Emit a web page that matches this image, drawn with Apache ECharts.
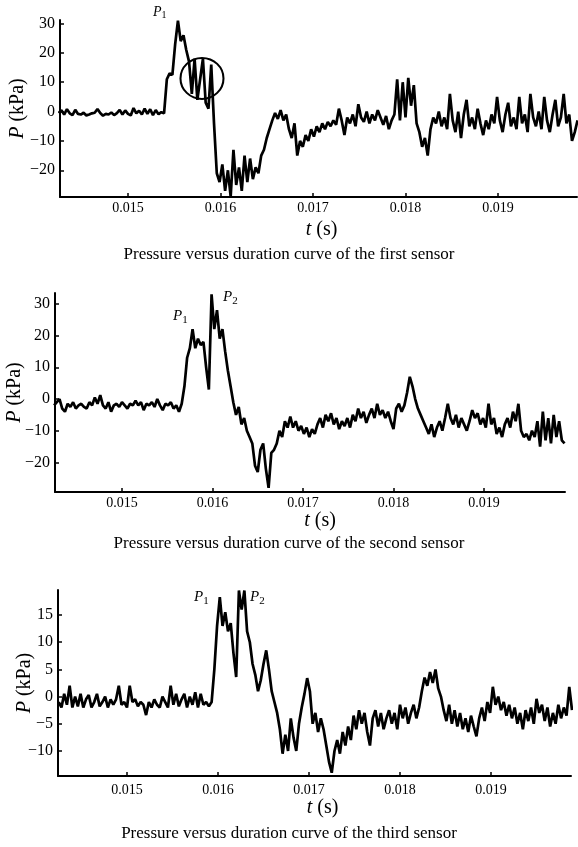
<!DOCTYPE html>
<html>
<head>
<meta charset="utf-8">
<script src="https://cdn.jsdelivr.net/npm/echarts@6/dist/echarts.min.js"></script>
<style>
html, body { margin: 0; padding: 0; background: #fff; }
#main { width: 578px; height: 847px; }
</style>
</head>
<body>
<div id="main"></div>
<script>
// sampling of the three pressure records
var T0 = 0.01425;   // time of first sample (s)
var DT = 0.00003;   // sample interval (s)

var timeTicks = [0.015, 0.016, 0.017, 0.018, 0.019];
var pTicks1 = [-20, -10, 0, 10, 20, 30];
var pTicks2 = [-20, -10, 0, 10, 20, 30];
var pTicks3 = [-10, -5, 0, 5, 10, 15];

var captions = [
    'Pressure versus duration curve of the first sensor',
    'Pressure versus duration curve of the second sensor',
    'Pressure versus duration curve of the third sensor'
];

// pressure (kPa) of the first sensor
var sensor1 = [
    -0.5, 0.5, -1, 0.8, -0.6, -1.2, 0.6, -0.8, -1, -0.4,
    -1.3, -1, -0.6, -0.4, 0.9, -0.5, -1.4, -0.8, -1, -0.3,
    -1.2, -0.5, 0.6, -1, 0.4, -0.8, -1.3, 1.2, -0.6, 0.3,
    -1, 1, -0.8, 0.8, -1.2, 0.5, -0.9, -0.2, -0.6,
    11, 13, 12.5, 23, 31, 24, 26, 21, 17, 6, 18, 4, 11, 18, 3, 1, 16, -4, -21,
    -24, -18, -27, -20, -29, -13, -25, -19, -27, -15, -24, -16, -23, -19, -21,
    -15, -13, -9, -6, -3, -0.5, -2.5, 0.5, -3, -1, -6, -9, -4, -15, -10,
    -12, -8, -10, -6, -8.5, -5, -7, -4, -6, -3.5, -5, -3, -4.5, 1, -3,
    -8, -2, -4, -1, -5, 2.5, -2, -3.5, 0, -4, -1, -3, 0.5, -2, -4.5,
    -1.5, -6, -3, -1, 11, -3, 10, -2, 11.5, 2, 9, -4, -7, -12, -9,
    -15, -6, -2, -4, 0, -5, -2, -6, 6, -3, -7, 0, -9, -1, 4,
    -5, -2, -6, 1, -4, -8, -3, -6, -1, -4, 5, -3, -7, -1, 3,
    -5, -2, -6, 5, -4, -1, -7, 6, -2, -5, 0, -6, 5, -3, -7,
    -1, 4, -5, -2, 6, -4, -1, -10, -7, -3
];

// pressure (kPa) of the second sensor
var sensor2 = [
    -2, -1, 0, -3, -4, -1.5, -2.5, -1, -3, -2,
    -1.5, -2.5, -3, -1, -2, 0.5, -1.5, 1.2, -2, -3,
    -1, -4, -2, -1.5, -2.5, -1, -2, -3, -1.5, -2,
    -0.5, -2, -1, -3.5, -1.5, -2, -1, -2.5, 0, -2,
    -3.5, -1.5, -2, -1, -3, -2, -4, -1.5,
    4, 13, 16, 22, 16, 19, 17, 18, 10, 3, 33, 22, 28, 19, 22, 15, 9, 4,
    -1, -5, -2.5, -8, -6, -10, -12, -14, -21, -23, -16, -14, -22, -28,
    -17, -16, -14, -10, -12, -7, -9, -5.5, -9, -7, -10, -8.5, -11, -9,
    -12, -9.5, -11, -8, -6, -9, -5, -7, -4.5, -8, -6, -9.5, -7, -8.5,
    -6, -9, -5, -7, -3, -6, -4, -7.5, -5, -3, -6, -1.5, -5, -3.5,
    -6, -4, -7, -9.5, -3, -1.5, -4, -2, 2, 7, 4, 0, -3, -5,
    -7, -9, -11, -8, -12, -9, -7, -10, -6, -1.5, -6, -8, -5, -9,
    -6, -8, -10, -7, -3.5, -6, -4.5, -8, -6, -9, -1.5, -8, -6, -11,
    -9, -12, -8, -6, -9, -4, -7, -1.5, -10, -12, -11, -13, -10, -12,
    -7, -15, -4, -13, -6, -14, -5, -12, -7, -13, -14
];

// pressure (kPa) of the third sensor
var sensor3 = [
    -1, -2, 0.5, -1.5, 2, -2, 0, -1.8, 0.5, -2,
    -0.5, 0.3, -2, -1, 0.5, -1.8, -1, 0, -2, -0.5,
    -1.5, -0.5, 2, -1.5, -1, -2, 2, -1, -0.5, -1.8,
    -1, -1.5, -3.4, -1, -2, -0.5, -1.5, -2, 0, -1,
    -2, 2, -1.5, 0.5, -1.8, -0.5, 0.5, -2, 0, -1.5,
    0.8, -2, 0.5, -1.5, -1, -1.8, -1,
    5, 13, 18.3, 13, 15.5, 12, 13.5, 8, 3.6, 19.5, 16, 19.5, 12, 10,
    6, 4, 1, 3, 6, 8.5, 5, 1, -1, -3, -6, -10.5, -7, -10,
    -4, -7.5, -10, -5, -2, 0.5, 3.4, 1, -5, -3, -6.5, -4, -6, -9,
    -12, -14, -10, -8, -10.5, -6.5, -9, -5.5, -8, -3.5, -6, -2.5, -5, -3,
    -6.5, -9, -4, -2.5, -5.5, -3, -6, -4, -2.5, -5, -3, -6, -1.5, -4,
    -2, -5, -3, -1.5, -4, -2, 1, 3.5, 2, 4.5, 2.5, 5, 1.5, 0,
    -2.5, -4.5, -1.5, -5, -2.5, -5.5, -3, -6, -4, -6.5, -3.5, -5.5, -7.3, -4,
    -2, -4.5, -1, -3, 1.8, -1.5, 0, -2.5, -1, -3.5, -1.5, -4, -2, -5,
    -3, -6, -2.5, -4.5, -2, -5, -0.4, -3, -1.5, -4.5, -2, -5.5, -3, -5,
    -1.5, -4, -2, -3.5, 1.8, -2.5
];

// circled burst in the first record: [t, P]
var burstMark = [0.0158, 11.3];

var FONT = '"Liberation Serif", "Times New Roman", serif';

function toPoints(values) {
    return values.map(function (p, i) {
        return [T0 + i * DT, p];
    });
}

function minusSign(v) {
    return String(v).replace('-', '\u2212');
}

var grids = [
    { left: 60, top: 20, width: 517, height: 177, outerBoundsMode: 'none', containLabel: false },
    { left: 55, top: 293, width: 510, height: 199, outerBoundsMode: 'none', containLabel: false },
    { left: 58, top: 590, width: 513, height: 186, outerBoundsMode: 'none', containLabel: false }
];
var xRanges = [[0.014265, 0.019854], [0.01426, 0.019895], [0.014242, 0.019879]];
var yRanges = [[-29.1, 31.2], [-29.3, 33.4], [-14.6, 19.6]];
var yTicks = [pTicks1, pTicks2, pTicks3];
var yNameGaps = [32, 30, 23];
var xNameGaps = [23, 18, 19];
var xLabelMargins = [4, 4, 7];
var xNamePads = [[0, 0, 0, 6], [0, 0, 0, 20], [0, 0, 0, 16]];
var captionTops = [246, 535, 825];
var records = [sensor1, sensor2, sensor3];

var axisLine = { show: true, onZero: false, lineStyle: { color: '#000', width: 2 } };
var axisTick = { show: true, inside: true, length: 4, lineStyle: { color: '#000', width: 1.5 } };

var xAxes = [], yAxes = [], series = [], titles = [];

for (var k = 0; k < 3; k++) {
    xAxes.push({
        type: 'value',
        gridIndex: k,
        min: xRanges[k][0],
        max: xRanges[k][1],
        name: '{i|t} (s)',
        nameLocation: 'middle',
        nameGap: xNameGaps[k],
        nameTextStyle: {
            fontFamily: FONT, fontSize: 20, color: '#000',
            padding: xNamePads[k],
            rich: { i: { fontFamily: FONT, fontSize: 20, fontStyle: 'italic', color: '#000' } }
        },
        axisLine: axisLine,
        axisTick: Object.assign({ customValues: timeTicks }, axisTick),
        axisLabel: {
            customValues: timeTicks,
            margin: xLabelMargins[k],
            fontFamily: FONT, fontSize: 14, color: '#000',
            formatter: function (v) { return v.toFixed(3); }
        },
        splitLine: { show: false }
    });
    yAxes.push({
        type: 'value',
        gridIndex: k,
        min: yRanges[k][0],
        max: yRanges[k][1],
        name: '{i|P} (kPa)',
        nameLocation: 'middle',
        nameRotate: 90,
        nameGap: yNameGaps[k],
        nameMoveOverlap: false,
        nameTextStyle: {
            fontFamily: FONT, fontSize: 20, color: '#000',
            rich: { i: { fontFamily: FONT, fontSize: 20, fontStyle: 'italic', color: '#000' } }
        },
        axisLine: axisLine,
        axisTick: Object.assign({ customValues: yTicks[k] }, axisTick),
        axisLabel: {
            customValues: yTicks[k],
            margin: 5,
            fontFamily: FONT, fontSize: 16, color: '#000',
            formatter: minusSign
        },
        splitLine: { show: false }
    });
    series.push({
        type: 'line',
        xAxisIndex: k,
        yAxisIndex: k,
        data: toPoints(records[k]),
        showSymbol: false,
        symbol: 'none',
        lineStyle: { color: '#000', width: 2.7, join: 'bevel' },
        clip: true
    });
    titles.push({
        text: captions[k],
        left: 'center',
        top: captionTops[k],
        padding: 0,
        textStyle: { fontFamily: FONT, fontSize: 17, fontWeight: 'normal', color: '#000' }
    });
}

// the circle around the burst after P1 in the first record
series[0].markPoint = {
    silent: true,
    symbol: 'circle',
    symbolSize: [43, 41],
    itemStyle: { color: 'rgba(0,0,0,0)', borderColor: '#000', borderWidth: 2 },
    label: { show: false },
    data: [{ coord: burstMark }]
};

function peakLabel(num, x, y, size) {
    return {
        type: 'text',
        left: x,
        top: y,
        style: {
            text: '{i|P}{s|' + num + '}',
            rich: {
                i: { fontFamily: FONT, fontSize: size, fontStyle: 'italic', fill: '#000' },
                s: { fontFamily: FONT, fontSize: size - 4, fill: '#000', padding: [size * 0.45, 0, 0, 0] }
            }
        }
    };
}

var option = {
    animation: false,
    backgroundColor: '#fff',
    title: titles,
    grid: grids,
    xAxis: xAxes,
    yAxis: yAxes,
    series: series,
    graphic: [
        peakLabel(1, 153, 5, 14),
        peakLabel(1, 173, 309, 15),
        peakLabel(2, 223, 290, 15),
        peakLabel(1, 194, 590, 15),
        peakLabel(2, 250, 590, 15)
    ]
};

var myChart = echarts.init(document.getElementById('main'));
option && myChart.setOption(option);
</script>
</body>
</html>
